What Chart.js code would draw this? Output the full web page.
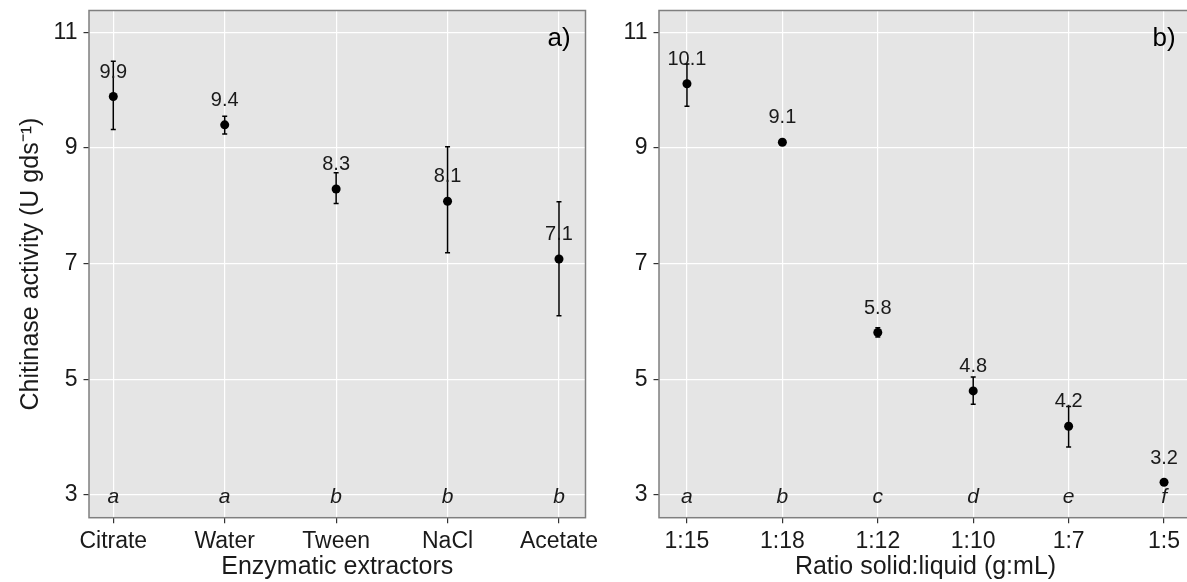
<!DOCTYPE html>
<html>
<head>
<meta charset="utf-8">
<script src="https://cdn.jsdelivr.net/npm/chart.js@4.4.1/dist/chart.umd.min.js"></script>
<style>
  body { margin: 0; background: #fff; overflow: hidden; width: 1187px; height: 582px; position: relative; }
  canvas { position: absolute; top: 0; }
</style>
</head>
<body>
<canvas id="chartA" width="600" height="582" style="left:0px"></canvas>
<canvas id="chartB" width="610" height="582" style="left:600px"></canvas>
<script>
// panel a) - extractors
const extractors = ['Citrate', 'Water', 'Tween', 'NaCl', 'Acetate'];
const extractMean = [9.89, 9.40, 8.29, 8.08, 7.08];
const extractLow = [9.32, 9.24, 8.04, 7.19, 6.10];
const extractHigh = [10.50, 9.55, 8.57, 9.02, 8.07];
const extractLetters = ['a', 'a', 'b', 'b', 'b'];

// panel b) - solid:liquid ratio
const ratios = ['1:15', '1:18', '1:12', '1:10', '1:7', '1:5'];
const ratioMean = [10.11, 9.10, 5.81, 4.80, 4.19, 3.22];
const ratioLow = [9.72, 9.07, 5.73, 4.57, 3.83, 3.20];
const ratioHigh = [10.45, 9.13, 5.89, 5.04, 4.53, 3.24];
const ratioLetters = ['a', 'b', 'c', 'd', 'e', 'f'];

const yTicks = [3, 5, 7, 9, 11];

const FONT = "'Liberation Sans', Arial, sans-serif";
const TEXT = '#1a1a1a';

// grey panel, error bars, labels, border
const panelPlugin = {
  id: 'panel',
  beforeDraw(chart) {
    const { ctx, chartArea: a } = chart;
    ctx.save();
    ctx.fillStyle = '#E5E5E5';
    ctx.fillRect(a.left, a.top, a.right - a.left, a.bottom - a.top);
    ctx.restore();
  },
  beforeDatasetsDraw(chart) {
    const o = chart.options.plugins.panel;
    const { ctx } = chart;
    const x = chart.scales.x, y = chart.scales.y;
    ctx.save();
    ctx.strokeStyle = '#000';
    ctx.lineWidth = 1.5;
    o.low.forEach((lo, i) => {
      const px = x.getPixelForValue(i);
      const y1 = y.getPixelForValue(lo), y2 = y.getPixelForValue(o.high[i]);
      ctx.beginPath();
      ctx.moveTo(px, y1); ctx.lineTo(px, y2);
      ctx.moveTo(px - 2.5, y1); ctx.lineTo(px + 2.5, y1);
      ctx.moveTo(px - 2.5, y2); ctx.lineTo(px + 2.5, y2);
      ctx.stroke();
    });
    ctx.restore();
  },
  afterDatasetsDraw(chart) {
    const o = chart.options.plugins.panel;
    const { ctx, chartArea: a } = chart;
    const x = chart.scales.x, y = chart.scales.y;
    ctx.save();
    ctx.fillStyle = TEXT;
    ctx.textAlign = 'center';
    ctx.textBaseline = 'middle';
    ctx.font = '20px ' + FONT;
    o.mean.forEach((m, i) => {
      ctx.fillText(m.toFixed(1), x.getPixelForValue(i), y.getPixelForValue(m + 0.42));
    });
    ctx.font = 'italic 21px ' + FONT;
    o.letters.forEach((l, i) => {
      ctx.fillText(l, x.getPixelForValue(i), y.getPixelForValue(3) + 2);
    });
    ctx.fillStyle = '#000';
    ctx.font = '26px ' + FONT;
    ctx.fillText(o.tag, x.getPixelForValue(o.mean.length - 1), y.getPixelForValue(10.88));
    ctx.strokeStyle = '#7f7f7f';
    ctx.lineWidth = 1.5;
    ctx.strokeRect(a.left, a.top, a.right - a.left, a.bottom - a.top);
    ctx.restore();
  }
};

function makeChart(id, cats, mean, low, high, letters, tag, xTitle, yTitle, xmin, xmax, yWidth, padRight) {
  return new Chart(document.getElementById(id), {
    type: 'scatter',
    data: {
      datasets: [{
        data: mean.map((m, i) => ({ x: i, y: m })),
        pointRadius: 4.5,
        pointBackgroundColor: '#000',
        pointBorderWidth: 0
      }]
    },
    options: {
      responsive: false,
      animation: false,
      layout: { padding: { top: 10.5, right: padRight, left: 0, bottom: 0 } },
      plugins: {
        legend: { display: false },
        tooltip: { enabled: false },
        panel: { mean: mean, low: low, high: high, letters: letters, tag: tag }
      },
      scales: {
        x: {
          type: 'linear',
          min: xmin, max: xmax,
          afterBuildTicks: s => { s.ticks = cats.map((c, i) => ({ value: i })); },
          afterFit: s => { s.height = 64.3; s.paddingLeft = 0; s.paddingRight = 0; },
          grid: { color: '#fff', lineWidth: 1.2, tickColor: '#333', tickLength: 5.5 },
          border: { display: false },
          ticks: {
            color: TEXT, font: { family: FONT, size: 23 }, padding: 5, maxRotation: 0,
            callback: v => cats[v]
          },
          title: { display: true, text: xTitle, color: TEXT, font: { family: FONT, size: 25 }, padding: { top: 0, bottom: 0 } }
        },
        y: {
          min: 2.608, max: 11.377,
          afterBuildTicks: s => { s.ticks = yTicks.map(v => ({ value: v })); },
          afterFit: s => { s.width = yWidth; s.paddingTop = 0; s.paddingBottom = 0; },
          grid: { color: '#fff', lineWidth: 1.2, tickColor: '#333', tickLength: 5.5 },
          border: { display: false },
          ticks: { color: TEXT, font: { family: FONT, size: 23 }, padding: 6 },
          title: { display: !!yTitle, text: yTitle, color: TEXT, font: { family: FONT, size: 25 }, padding: { top: 16, bottom: 0 } }
        }
      }
    },
    plugins: [panelPlugin]
  });
}

makeChart('chartA', extractors, extractMean, extractLow, extractHigh, extractLetters, 'a)',
  'Enzymatic extractors', 'Chitinase activity (U gds\u207B\u00B9)', -0.218, 4.238, 89, 14.5);
// panel b's right edge falls just outside the window, as in the original
makeChart('chartB', ratios, ratioMean, ratioLow, ratioHigh, ratioLetters, 'b)',
  'Ratio solid:liquid (g:mL)', '', -0.293, 5.293, 59, 18);
</script>
</body>
</html>
